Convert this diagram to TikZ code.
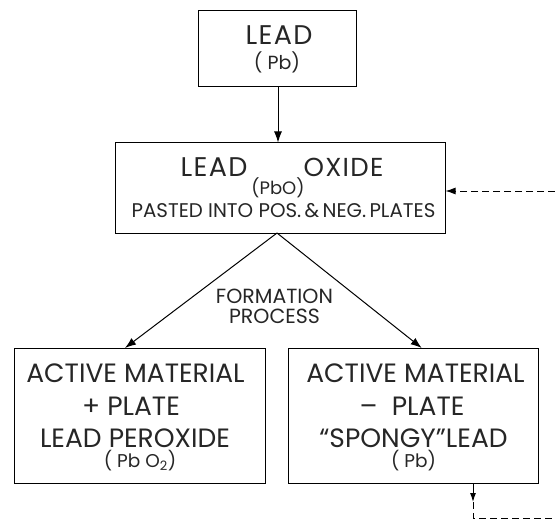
\documentclass[tikz,border=0pt]{standalone}
\usepackage{fontspec}
\setmainfont{Poppins}
\newfontfamily\widefont{Poppins}[LetterSpace=5]
\usetikzlibrary{arrows.meta,calc}
\tikzset{
  box/.style={draw,line width=1pt,inner sep=0pt,minimum width=#1},
  lbl/.style={anchor=base,inner sep=0pt,text=black!85},
  arr/.style={line width=1pt,-{Latex[length=11pt,width=8pt]}},
  dsh/.style={line width=1pt,dash pattern=on 7pt off 4pt},
}
\begin{document}
\begin{tikzpicture}[x=1pt,y=-1pt]
\useasboundingbox (0,0) rectangle (555,519);
% boxes
\node[box=158pt,minimum height=76pt] (lead) at (277,49) {};
\node[box=330pt,minimum height=90pt] (oxide) at (280,188) {};
\node[box=251pt,minimum height=135pt] (pos) at (139.5,415.5) {};
\node[box=250pt,minimum height=135pt] (neg) at (413,415.5) {};
% texts
\node[lbl,font=\widefont\fontsize{27}{27}\selectfont] (t1) at (279,45) {LEAD};
\node[lbl,font=\fontsize{19}{19}\selectfont] (t2) at (277,70) {( Pb)};
\node[lbl,font=\widefont\fontsize{27}{27}\selectfont] (t3) at (214,176.5) {LEAD};
\node[lbl,font=\widefont\fontsize{26}{26}\selectfont] (t4) at (343.5,176.5) {OXIDE};
\node[lbl,font=\fontsize{18}{18}\selectfont] (t5) at (278,194.5) {(PbO)};
\node[lbl,font=\fontsize{19.8}{19.8}\selectfont] (t6) at (283.5,217) {PASTED INTO POS.\,\&\,NEG.\,PLATES};
\node[lbl,font=\fontsize{20.5}{20.5}\selectfont] (t7) at (274.5,303) {FORMATION};
\node[lbl,font=\fontsize{20.5}{20.5}\selectfont] (t8) at (274.5,323) {PROCESS};
\node[lbl,font=\fontsize{26.5}{26.5}\selectfont] (p1) at (135.5,382) {ACTIVE MATERIAL};
\node[lbl,font=\fontsize{26.5}{26.5}\selectfont] (p2) at (131,415) {+ PLATE};
\node[lbl,font=\fontsize{26.5}{26.5}\selectfont] (p3) at (135,447) {LEAD PEROXIDE};
\node[lbl,font=\fontsize{18.5}{18.5}\selectfont] (p4) at (140,467) {( Pb O\textsubscript{2})};
\node[lbl,font=\fontsize{26.5}{26.5}\selectfont] (n1) at (415.5,382) {ACTIVE MATERIAL};
\node[lbl,font=\fontsize{26.5}{26.5}\selectfont] (n2) at (412,415) {\textendash{}\; PLATE};
\node[lbl,font=\fontsize{26.5}{26.5}\selectfont] (n3) at (413.5,447) {“SPONGY”LEAD};
\node[lbl,font=\fontsize{18.5}{18.5}\selectfont] (n4) at (413.5,467) {( Pb)};
% connectors
\coordinate (apex) at (277,233);
\coordinate (posin) at (125,348);
\coordinate (negin) at (421.7,348);
\coordinate (rin) at (555,191);
\coordinate (nout) at (473,483);
\coordinate (nmid) at (473,502);
\coordinate (ncorner) at (473,518);
\coordinate (bout) at (555,518);
\draw[arr] (lead.south -| 278,0) -- (oxide.north -| 278,0);
\draw[arr] (apex) -- (posin);
\draw[arr] (apex) -- (negin);
\draw[dsh,-{Latex[length=10pt,width=7pt]}] (rin) -- (rin -| oxide.east);
\draw[arr,-{Latex[length=9pt,width=6pt]}] (nout) -- (nmid);
\draw[dsh] (nmid) -- (ncorner) -- (bout);
\end{tikzpicture}
\end{document}
